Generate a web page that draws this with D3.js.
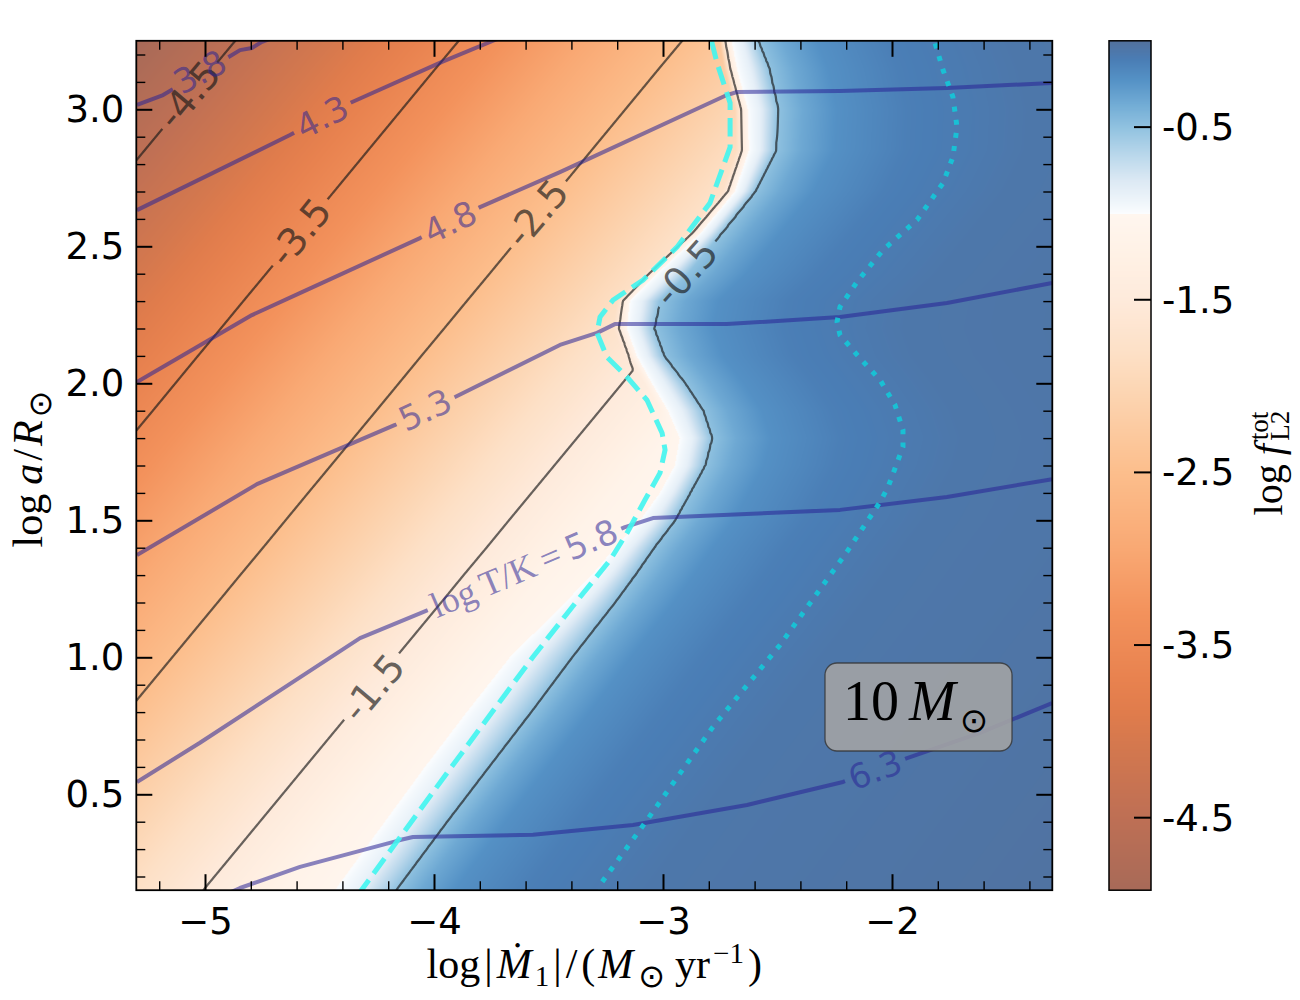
<!DOCTYPE html>
<html>
<head>
<meta charset="utf-8">
<script src="https://cdn.jsdelivr.net/npm/d3@7"></script>
<style>
  body { margin: 0; background: #fff; }
  #wrapper svg { display: block; }
</style>
</head>
<body>
<div id="wrapper"></div>
<script>
// 1. Data

const xDomain = [-5.3, -1.3];
const yDomain = [0.15, 3.25];
const colorDomain = [-4.92, 0];

const xMajorTicks = [-5, -4, -3, -2];
const yMajorTicks = [0.5, 1.0, 1.5, 2.0, 2.5, 3.0];
const colorTicks = [-0.5, -1.5, -2.5, -3.5, -4.5];

// log f_L2 field, one row per log a value.
// leftValue: value at the left edge; rampX/rampValue: end of the smooth orange ramp;
// lowX/lowValue: foot of the jump; whiteX: f = -1; halfX: f = -0.5
const rowY = [3.25, 3.15, 3.0, 2.85, 2.7, 2.55, 2.4, 2.3, 2.2, 2.1, 2.0, 1.9,
  1.8, 1.7, 1.6, 1.5, 1.4, 1.3, 1.2, 1.0, 0.8, 0.6, 0.4, 0.15];
const leftValue = [-4.943, -4.841, -4.689, -4.537, -4.385, -4.233, -4.081, -3.979,
  -3.878, -3.776, -3.675, -3.574, -3.472, -3.371, -3.269, -3.168, -3.067, -2.965,
  -2.864, -2.661, -2.458, -2.255, -2.053, -1.799];
const rampX = [-2.755, -2.734, -2.686, -2.681, -2.742, -2.895, -3.087, -3.201,
  -3.218, -3.175, -3.083, -3.013, -3.034, -3.133, -3.232, -3.331, -3.429, -3.529,
  -3.627, -3.825, -4.023, -4.221, -4.419, -4.666];
const rampValue = [-2.335, -2.211, -2.010, -1.853, -1.764, -1.768, -1.813, -1.828,
  -1.744, -1.598, -1.403, -1.230, -1.15, -1.15, -1.15, -1.15, -1.15, -1.15,
  -1.15, -1.15, -1.15, -1.15, -1.15, -1.15];
const lowX = [-2.729, -2.707, -2.659, -2.655, -2.716, -2.869, -3.061, -3.175,
  -3.192, -3.148, -3.061, -2.991, -2.939, -2.961, -3.026, -3.114, -3.223, -3.323,
  -3.441, -3.681, -3.869, -4.052, -4.227, -4.445];
const lowValue = [-1.5, -1.5, -1.5, -1.5, -1.5, -1.5, -1.5, -1.5, -1.5, -1.5,
  -1.2, -1.1, -1.04, -1.04, -1.04, -1.04, -1.04, -1.04, -1.04, -1.04, -1.04,
  -1.04, -1.04, -1.04];
const whiteX = [-2.699, -2.677, -2.629, -2.624, -2.686, -2.834, -3.026, -3.144,
  -3.157, -3.114, -3.048, -2.978, -2.926, -2.948, -3.013, -3.100, -3.210, -3.310,
  -3.428, -3.668, -3.856, -4.039, -4.214, -4.432];
const halfX = [-2.585, -2.537, -2.498, -2.507, -2.598, -2.742, -2.891, -3.013,
  -3.039, -2.996, -2.904, -2.825, -2.786, -2.817, -2.882, -2.948, -3.039, -3.122,
  -3.210, -3.397, -3.576, -3.760, -3.943, -4.166];
const paleFrac = 0.4;
const paleValue = -0.88;
// blue side: distance to the right of the -0.5 line and value there
const blueOffset = [0, 0.11, 0.26, 0.57, 1.1, 3.0];
const blueValue = [-0.5, -0.35, -0.22, -0.12, -0.06, -0.02];

const fLevels = [-4.5, -3.5, -2.5, -1.5, -0.5];
const fLabels = [
  ["-4.5", -5.07, 3.052, -50],
  ["-3.5", -4.585, 2.551, -51],
  ["-2.5", -3.55, 2.62, -50],
  ["-1.5", -4.265, 0.888, -50],
  ["-0.5", -2.9, 2.403, -48],
];

// log T/K contours
const temp38 = [[-5.297, 3.016], [-5.183, 3.052], [-5.022, 3.132], [-4.904, 3.187],
  [-4.847, 3.216], [-4.795, 3.224], [-4.751, 3.246], [-4.707, 3.260]];
const temp43 = [[-5.297, 2.632], [-4.629, 2.906], [-4.367, 3.023], [-3.965, 3.173],
  [-3.734, 3.253], [-3.70, 3.265]];
const temp48 = [[-5.297, 2.005], [-4.795, 2.249], [-4.555, 2.341], [-4.061, 2.530],
  [-3.799, 2.643], [-3.450, 2.771], [-2.721, 3.052], [-2.677, 3.063], [-2.227, 3.067],
  [-1.760, 3.078], [-1.301, 3.096]];
const temp53 = [[-5.297, 1.373], [-4.773, 1.632], [-4.170, 1.848], [-3.908, 1.950],
  [-3.450, 2.140], [-3.288, 2.184], [-3.210, 2.216], [-2.721, 2.216], [-2.227, 2.242],
  [-1.760, 2.293], [-1.301, 2.366]];
const temp58 = [[-5.297, 0.545], [-5.022, 0.688], [-4.323, 1.070], [-4.048, 1.165],
  [-3.166, 1.475], [-3.044, 1.508], [-2.227, 1.538], [-1.760, 1.585], [-1.301, 1.650]];
const temp63 = [[-4.913, 0.133], [-4.847, 0.158], [-4.585, 0.235], [-4.148, 0.333],
  [-4.092, 0.344], [-3.568, 0.352], [-3.131, 0.388], [-2.926, 0.418], [-2.633, 0.461],
  [-2.214, 0.545], [-1.934, 0.632], [-1.616, 0.724], [-1.301, 0.833]];
const tempLines = [temp38, temp43, temp48, temp53, temp58, temp63];
const tempLabels = [
  ["3.8", -5.022, 3.136, -28],
  ["4.3", -4.489, 2.972, -27],
  ["4.8", -3.930, 2.588, -26],
  ["5.3", -4.039, 1.903, -25],
  ["5.8", -3.607, 1.325, -23],
  ["6.3", -2.074, 0.589, -21],
];

const cyanDashed = [[-4.332, 0.133], [-4.310, 0.158], [-3.943, 0.578], [-3.568, 1.001],
  [-3.362, 1.220], [-3.231, 1.355], [-3.157, 1.454], [-3.079, 1.574], [-3.013, 1.673],
  [-2.991, 1.757], [-3.004, 1.819], [-3.070, 1.939], [-3.157, 2.023], [-3.245, 2.096],
  [-3.288, 2.184], [-3.275, 2.242], [-3.218, 2.304], [-3.087, 2.377], [-2.939, 2.497],
  [-2.795, 2.658], [-2.707, 2.862], [-2.707, 3.023], [-2.764, 3.169], [-2.786, 3.242],
  [-2.790, 3.268]];
const cyanDotted = [[-3.275, 0.133], [-3.266, 0.180], [-3.070, 0.406], [-2.782, 0.746],
  [-2.489, 1.045], [-2.197, 1.385], [-2.052, 1.567], [-2.017, 1.622], [-1.952, 1.768],
  [-1.952, 1.830], [-1.987, 1.921], [-2.052, 2.012], [-2.140, 2.092], [-2.227, 2.176],
  [-2.240, 2.224], [-2.227, 2.279], [-2.153, 2.370], [-2.039, 2.487], [-1.891, 2.596],
  [-1.777, 2.731], [-1.734, 2.826], [-1.716, 2.935], [-1.734, 3.045], [-1.777, 3.143],
  [-1.812, 3.242], [-1.817, 3.268]];

// colour map
const cmapValues = [-4.92, -4.46, -4.08, -3.89, -3.70, -3.31, -2.93, -2.50, -2.10,
  -1.81, -1.50, -1.24, -1.0001, -1.0, -0.96, -0.81, -0.66, -0.50, -0.37, -0.23,
  -0.11, -0.05, 0];
const cmapColors = ["#a86a58", "#c07054", "#d4784e", "#e07c4c", "#e8824f", "#f3925c",
  "#f9a974", "#fcbe8c", "#fcd2ad", "#fde0c6", "#feeadb", "#fff1e5", "#fff6ef",
  "#fbfdff", "#f3f8fc", "#dce9f4", "#b9d7eb", "#90c2e0", "#72acd5", "#5592c6",
  "#4a7db5", "#4e76a8", "#52709c"];

// 2. Dimensions

const width = 1300, height = 1000;
const plot = { left: 136.3, right: 1052.3, top: 40.8, bottom: 890.2 };
const bar = { left: 1109, right: 1151 };

// 3. Canvas

const svg = d3.select("#wrapper").append("svg")
  .attr("width", width).attr("height", height);
const defs = svg.append("defs");
defs.append("clipPath").attr("id", "plotClip").append("rect")
  .attr("x", plot.left).attr("y", plot.top)
  .attr("width", plot.right - plot.left).attr("height", plot.bottom - plot.top);

// 4. Scales

const xScale = d3.scaleLinear().domain(xDomain).range([plot.left, plot.right]);
const yScale = d3.scaleLinear().domain(yDomain).range([plot.bottom, plot.top]);
const cScale = d3.scaleLinear().domain(colorDomain).range([plot.bottom, plot.top]);
const colorScale = d3.scaleLinear().domain(cmapValues).range(cmapColors)
  .interpolate(d3.interpolateRgb).clamp(true);

const lutSize = 4096;
const lut = d3.range(lutSize).map(i => {
  const v = colorDomain[0] + (i / (lutSize - 1)) * (colorDomain[1] - colorDomain[0]);
  return d3.rgb(colorScale(v));
});
function lutColor(v) {
  let i = Math.round((v - colorDomain[0]) / (colorDomain[1] - colorDomain[0]) * (lutSize - 1));
  return lut[Math.max(0, Math.min(lutSize - 1, i))];
}

// field from the row knots
const rowKnots = rowY.map((_, i) => {
  const xs = [xDomain[0], rampX[i], lowX[i], whiteX[i], whiteX[i] + paleFrac * (halfX[i] - whiteX[i])];
  const vs = [leftValue[i], rampValue[i], lowValue[i], -1.0, paleValue];
  blueOffset.forEach((o, k) => { xs.push(halfX[i] + o); vs.push(blueValue[k]); });
  return { xs, vs };
});

function knotsAtY(y) {
  const n = rowY.length;
  if (y >= rowY[0]) return rowKnots[0];
  if (y <= rowY[n - 1]) return rowKnots[n - 1];
  let i = 0;
  while (rowY[i + 1] > y) i++;
  const t = (rowY[i] - y) / (rowY[i] - rowY[i + 1]);
  const a = rowKnots[i], b = rowKnots[i + 1];
  return {
    xs: a.xs.map((v, k) => v + t * (b.xs[k] - v)),
    vs: a.vs.map((v, k) => v + t * (b.vs[k] - v)),
  };
}

function evalKnots(k, x) {
  const xs = k.xs, vs = k.vs, n = xs.length;
  if (x <= xs[0]) return vs[0] + (x - xs[0]) * (vs[1] - vs[0]) / (xs[1] - xs[0]);
  for (let j = 1; j < n; j++) {
    if (x <= xs[j]) {
      const t = (x - xs[j - 1]) / (xs[j] - xs[j - 1]);
      return vs[j - 1] + t * (vs[j] - vs[j - 1]);
    }
  }
  return vs[n - 1];
}

// 5. Draw data

// heatmap
const imgW = Math.round(plot.right - plot.left), imgH = Math.round(plot.bottom - plot.top);
const canvas = document.createElement("canvas");
canvas.width = imgW; canvas.height = imgH;
const ctx = canvas.getContext("2d");
const image = ctx.createImageData(imgW, imgH);
for (let j = 0; j < imgH; j++) {
  const k = knotsAtY(yScale.invert(plot.top + (j + 0.5) * (plot.bottom - plot.top) / imgH));
  for (let i = 0; i < imgW; i++) {
    const c = lutColor(evalKnots(k, xScale.invert(plot.left + (i + 0.5) * (plot.right - plot.left) / imgW)));
    const p = 4 * (j * imgW + i);
    image.data[p] = c.r; image.data[p + 1] = c.g; image.data[p + 2] = c.b; image.data[p + 3] = 255;
  }
}
ctx.putImageData(image, 0, 0);
svg.append("image")
  .attr("href", canvas.toDataURL())
  .attr("x", plot.left).attr("y", plot.top)
  .attr("width", plot.right - plot.left).attr("height", plot.bottom - plot.top)
  .attr("preserveAspectRatio", "none");

// label texts first (measured to cut gaps into the lines)
const labelLayer = svg.append("g");
function placeLabel(g, [text, x, y, angle], size, color, opacity) {
  const t = g.append("text")
    .attr("transform", `translate(${xScale(x)},${yScale(y)}) rotate(${angle})`)
    .attr("text-anchor", "middle").attr("dominant-baseline", "central")
    .attr("font-family", "DejaVu Sans").attr("font-size", size)
    .attr("fill", color).attr("fill-opacity", opacity);
  if (text === "5.8") {
    t.append("tspan").attr("font-family", "Liberation Serif").attr("font-size", size + 2)
      .text("log\u2009T/K\u2009=\u2009");
  }
  t.append("tspan").text(text);
  return { cx: xScale(x), cy: yScale(y), angle, w: t.node().getComputedTextLength() };
}

function makeMask(id, boxes, h, pad) {
  const m = defs.append("mask").attr("id", id).attr("maskUnits", "userSpaceOnUse")
    .attr("x", 0).attr("y", 0).attr("width", width).attr("height", height);
  m.append("rect").attr("width", width).attr("height", height).attr("fill", "white");
  boxes.forEach(b => m.append("rect")
    .attr("x", -b.w / 2 - pad).attr("y", -h / 2).attr("width", b.w + 2 * pad).attr("height", h)
    .attr("transform", `translate(${b.cx},${b.cy}) rotate(${b.angle})`)
    .attr("fill", "black"));
}

// black f contours from the field
const step = 2, gx0 = plot.left - 6, gy0 = plot.top - 6;
const gw = Math.ceil((plot.right - plot.left + 12) / step) + 1;
const gh = Math.ceil((plot.bottom - plot.top + 12) / step) + 1;
const grid = new Float64Array(gw * gh);
for (let j = 0; j < gh; j++) {
  const k = knotsAtY(yScale.invert(gy0 + j * step));
  for (let i = 0; i < gw; i++) grid[j * gw + i] = evalKnots(k, xScale.invert(gx0 + i * step));
}
const contours = d3.contours().size([gw, gh]).thresholds(fLevels)(grid);
const gridPath = d3.geoPath(d3.geoTransform({
  point(x, y) { this.stream.point(gx0 + (x - 0.5) * step, gy0 + (y - 0.5) * step); }
}));

const fLabelLayer = labelLayer.append("g");
const fBoxes = fLabels.map(l => placeLabel(fLabelLayer, l, 38, "#1a1a1a", 0.68));
makeMask("fMask", fBoxes, 34, 6);

const contourLayer = svg.insert("g", () => labelLayer.node()).attr("clip-path", "url(#plotClip)")
  .append("g").attr("mask", "url(#fMask)");
contourLayer.selectAll("path").data(contours).join("path")
  .attr("d", gridPath)
  .attr("fill", "none").attr("stroke", "#1a1a1a").attr("stroke-opacity", 0.66)
  .attr("stroke-width", 2.2);

// temperature contours
const line = d3.line().x(d => xScale(d[0])).y(d => yScale(d[1]));
const tLabelLayer = labelLayer.append("g");
const tBoxes = tempLabels.map(l => placeLabel(tLabelLayer, l, 34, "#282396", 0.55));
makeMask("tMask", tBoxes, 30, 5);

const tempLayer = svg.insert("g", () => labelLayer.node()).attr("clip-path", "url(#plotClip)")
  .append("g").attr("mask", "url(#tMask)");
tempLayer.selectAll("path").data(tempLines).join("path")
  .attr("d", line)
  .attr("fill", "none").attr("stroke", "#282396").attr("stroke-opacity", 0.55)
  .attr("stroke-width", 4).attr("stroke-linejoin", "round");

// cyan boundaries
const cyanLayer = svg.insert("g", () => labelLayer.node()).attr("clip-path", "url(#plotClip)");
cyanLayer.append("path").attr("d", line(cyanDashed))
  .attr("fill", "none").attr("stroke", "#40f5f0").attr("stroke-opacity", 0.9)
  .attr("stroke-width", 5).attr("stroke-dasharray", "18.5,8");
cyanLayer.append("path").attr("d", line(cyanDotted))
  .attr("fill", "none").attr("stroke", "#14c8d8").attr("stroke-opacity", 0.9)
  .attr("stroke-width", 5).attr("stroke-dasharray", "5,8.25");

// mass box
const box = svg.append("g");
box.append("rect").attr("x", 825).attr("y", 663).attr("width", 187).attr("height", 88)
  .attr("rx", 12).attr("fill", "#a4a4a4").attr("fill-opacity", 0.88)
  .attr("stroke", "#333").attr("stroke-opacity", 0.8).attr("stroke-width", 1.3);
const boxText = box.append("text").attr("x", 843).attr("y", 720)
  .attr("font-family", "Liberation Serif").attr("font-size", 56).attr("fill", "#000");
boxText.append("tspan").text("10");
boxText.append("tspan").attr("dx", 10).attr("font-style", "italic").text("M");
boxText.append("tspan").attr("dx", 4).attr("dy", 12).attr("font-family", "DejaVu Sans")
  .attr("font-size", 34).text("\u2299");

// 6. Draw peripherals

svg.append("rect").attr("x", plot.left).attr("y", plot.top)
  .attr("width", plot.right - plot.left).attr("height", plot.bottom - plot.top)
  .attr("fill", "none").attr("stroke", "#000").attr("stroke-width", 1.8);

const xMinor = xScale.ticks(20).filter(t => !xMajorTicks.some(m => Math.abs(m - t) < 1e-6));
const yMinor = yScale.ticks(31).filter(t => !yMajorTicks.some(m => Math.abs(m - t) < 1e-6));

function styleAxis(g, w) {
  g.select(".domain").remove();
  g.selectAll(".tick line").attr("stroke", "#000").attr("stroke-width", w);
  g.attr("font-family", "DejaVu Sans").attr("font-size", 37);
  g.selectAll("text").attr("fill", "#000");
}
const axes = [
  [d3.axisBottom(xScale), plot.bottom, "x", xMajorTicks, xMinor, true],
  [d3.axisTop(xScale), plot.top, "x", xMajorTicks, xMinor, false],
  [d3.axisLeft(yScale), plot.left, "y", yMajorTicks, yMinor, true],
  [d3.axisRight(yScale), plot.right, "y", yMajorTicks, yMinor, false],
];
axes.forEach(([gen, pos, dir, major, minor, labels]) => {
  const tr = dir === "x" ? `translate(0,${pos})` : `translate(${pos},0)`;
  const fmt = dir === "x" ? d3.format("") : d3.format(".1f");
  svg.append("g").attr("transform", tr)
    .call(gen.tickValues(major).tickSizeInner(-16).tickSizeOuter(0)
      .tickPadding(dir === "x" ? 18 : 12).tickFormat(labels ? fmt : () => ""))
    .call(g => styleAxis(g, 2));
  svg.append("g").attr("transform", tr)
    .call(gen.tickValues(minor).tickSizeInner(-9).tickSizeOuter(0).tickFormat(() => ""))
    .call(g => styleAxis(g, 1.4));
});

// axis labels
const xLabel = svg.append("text").attr("x", (plot.left + plot.right) / 2).attr("y", 978)
  .attr("text-anchor", "middle").attr("font-family", "Liberation Serif").attr("font-size", 42);
xLabel.append("tspan").text("log");
xLabel.append("tspan").attr("dx", 4).text("|");
xLabel.append("tspan").attr("dx", 4).attr("font-style", "italic").text("\u1E40");
xLabel.append("tspan").attr("dx", 3).attr("dy", 8).attr("font-size", 29).text("1");
xLabel.append("tspan").attr("dx", 4).attr("dy", -8).text("|");
xLabel.append("tspan").attr("dx", 4).text("/");
xLabel.append("tspan").attr("dx", 4).text("(");
xLabel.append("tspan").attr("dx", 3).attr("font-style", "italic").text("M");
xLabel.append("tspan").attr("dx", 5).attr("dy", 9).attr("font-family", "DejaVu Sans")
  .attr("font-size", 32).text("\u2299");
xLabel.append("tspan").attr("dx", 10).attr("dy", -9).text("yr");
xLabel.append("tspan").attr("dx", 3).attr("dy", -15).attr("font-size", 29).text("\u22121");
xLabel.append("tspan").attr("dx", 4).attr("dy", 15).text(")");

const yLabel = svg.append("text").attr("transform", "translate(42,469) rotate(-90)")
  .attr("text-anchor", "middle").attr("font-family", "Liberation Serif").attr("font-size", 42);
yLabel.append("tspan").text("log");
yLabel.append("tspan").attr("dx", 9).attr("font-style", "italic").text("a");
yLabel.append("tspan").attr("dx", 3).text("/");
yLabel.append("tspan").attr("dx", 3).attr("font-style", "italic").text("R");
yLabel.append("tspan").attr("dx", 3).attr("dy", 9).attr("font-family", "DejaVu Sans")
  .attr("font-size", 32).text("\u2299");

// colorbar
const barCanvas = document.createElement("canvas");
barCanvas.width = 1; barCanvas.height = imgH;
const bctx = barCanvas.getContext("2d");
const barImg = bctx.createImageData(1, imgH);
for (let j = 0; j < imgH; j++) {
  const c = lutColor(cScale.invert(plot.top + (j + 0.5) * (plot.bottom - plot.top) / imgH));
  barImg.data[4 * j] = c.r; barImg.data[4 * j + 1] = c.g; barImg.data[4 * j + 2] = c.b; barImg.data[4 * j + 3] = 255;
}
bctx.putImageData(barImg, 0, 0);
svg.append("image").attr("href", barCanvas.toDataURL())
  .attr("x", bar.left).attr("y", plot.top)
  .attr("width", bar.right - bar.left).attr("height", plot.bottom - plot.top)
  .attr("preserveAspectRatio", "none").style("image-rendering", "pixelated");
svg.append("rect").attr("x", bar.left).attr("y", plot.top)
  .attr("width", bar.right - bar.left).attr("height", plot.bottom - plot.top)
  .attr("fill", "none").attr("stroke", "#000").attr("stroke-width", 1.5);
const cTicks = svg.append("g").selectAll("g").data(colorTicks).join("g")
  .attr("transform", d => `translate(0,${cScale(d)})`);
cTicks.append("line").attr("x1", bar.right - 17).attr("x2", bar.right)
  .attr("stroke", "#000").attr("stroke-width", 2);
cTicks.append("text").attr("x", bar.right + 11).attr("dy", "0.35em")
  .attr("font-family", "DejaVu Sans").attr("font-size", 37).attr("fill", "#000")
  .text(d => d.toFixed(1));

const cLabel = svg.append("text").attr("transform", "translate(1282,463) rotate(-90)")
  .attr("text-anchor", "middle").attr("font-family", "Liberation Serif").attr("font-size", 40);
cLabel.append("tspan").text("log");
cLabel.append("tspan").attr("dx", 9).attr("font-style", "italic").text("f");
cLabel.append("tspan").attr("dx", 4).attr("dy", -14).attr("font-size", 27).text("tot");
cLabel.append("tspan").attr("dx", -29).attr("dy", 21).attr("font-size", 27).text("L2");
</script>
</body>
</html>
